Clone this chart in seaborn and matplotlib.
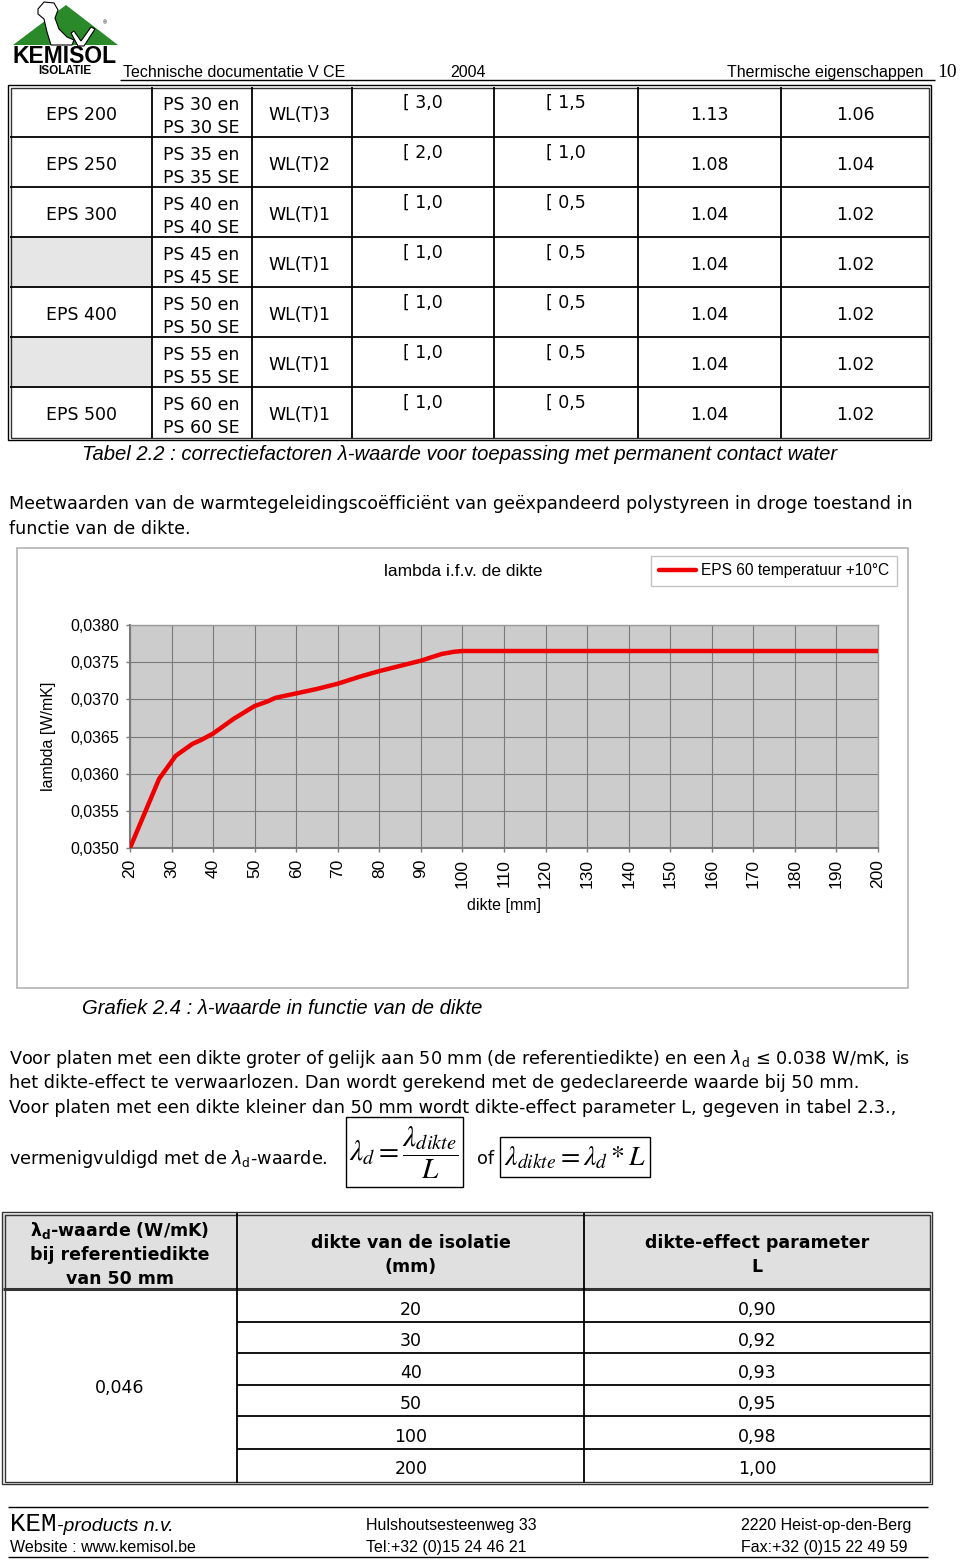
import matplotlib
matplotlib.use("Agg")
import matplotlib.pyplot as plt
from matplotlib.patches import Rectangle, Polygon
from matplotlib.ticker import FixedLocator, FixedFormatter
import seaborn as sns

# ---------------- data ----------------
thickness_mm = [20, 27, 31, 35, 37, 40, 45, 50, 53, 55, 60, 65, 70, 75, 80, 85, 90, 95, 98, 100, 200]
lambda_wmk = [0.03500, 0.03593, 0.03624, 0.03640, 0.03645, 0.03654, 0.03674, 0.03691, 0.03697,
              0.03702, 0.03708, 0.03714, 0.03721, 0.03730, 0.03738, 0.03745, 0.03752, 0.03761,
              0.03764, 0.03765, 0.03765]
series_name = "EPS 60 temperatuur +10°C"
x_ticks = [20, 30, 40, 50, 60, 70, 80, 90, 100, 110, 120, 130, 140, 150, 160, 170, 180, 190, 200]
y_ticks = [0.0350, 0.0355, 0.0360, 0.0365, 0.0370, 0.0375, 0.0380]
y_tick_labels = ["0,0350", "0,0355", "0,0360", "0,0365", "0,0370", "0,0375", "0,0380"]

t1_eps = ["EPS 200", "EPS 250", "EPS 300", "", "EPS 400", "", "EPS 500"]
t1_ps = ["30", "35", "40", "45", "50", "55", "60"]
t1_wl = ["WL(T)3", "WL(T)2", "WL(T)1", "WL(T)1", "WL(T)1", "WL(T)1", "WL(T)1"]
t1_c3 = ["[ 3,0", "[ 2,0", "[ 1,0", "[ 1,0", "[ 1,0", "[ 1,0", "[ 1,0"]
t1_c4 = ["[ 1,5", "[ 1,0", "[ 0,5", "[ 0,5", "[ 0,5", "[ 0,5", "[ 0,5"]
t1_c5 = ["1.13", "1.08", "1.04", "1.04", "1.04", "1.04", "1.04"]
t1_c6 = ["1.06", "1.04", "1.02", "1.02", "1.02", "1.02", "1.02"]

t2_dikte = ["20", "30", "40", "50", "100", "200"]
t2_L = ["0,90", "0,92", "0,93", "0,95", "0,98", "1,00"]
t2_lambda = "0,046"

BODY = "DejaVu Sans"
ARIAL = "Liberation Sans"

fig = plt.figure(figsize=(9.6, 15.6), dpi=100)
pg = fig.add_axes([0, 0, 1, 1])
pg.set_xlim(0, 960)
pg.set_ylim(1560, 0)
pg.axis("off")


def txt(x, y, s, size=12.5, ha="left", va="baseline", family=BODY, **kw):
    pg.text(x, y, s, fontsize=size, ha=ha, va=va, family=family, **kw)


def hl(x0, x1, y, lw=1.3, color="black"):
    pg.plot([x0, x1], [y, y], color=color, lw=lw, solid_capstyle="butt")


def vl(x, y0, y1, lw=1.3, color="black"):
    pg.plot([x, x], [y0, y1], color=color, lw=lw, solid_capstyle="butt")


# ---------------- header / logo ----------------
pg.add_patch(Polygon([(13, 45), (118, 45), (66, 5)], closed=True, fc="#2a8a2a", ec="none"))
pg.add_patch(Polygon([(38, 9), (44, 2), (54, 3), (58, 10), (55, 18), (59, 29), (67, 37), (74, 40),
                      (72, 45), (51, 45), (47, 32), (44, 19), (38, 14)], closed=True,
                     fc="white", ec="black", lw=0.8))
pg.add_patch(Polygon([(74, 31), (81, 41), (91, 27), (95, 29), (84, 46), (78, 46), (71, 33)],
                     closed=True, fc="white", ec="black", lw=0.8))
txt(103, 24, "®", size=4, family=ARIAL)
txt(12, 63, "KEMISOL", size=16.5, family=ARIAL, fontweight="heavy")
txt(65, 74, "ISOLATIE", size=8.5, ha="center", family=ARIAL, fontweight="bold")
txt(123, 77, "Technische documentatie V CE", size=11.5, family=ARIAL)
txt(450, 77, "2004", size=11.5, family=ARIAL)
txt(923, 77, "Thermische eigenschappen", size=11.5, ha="right", family=ARIAL)
txt(937, 77, "10", size=14, family="Liberation Serif")
hl(120, 935, 79.5, lw=1.0)

# ---------------- table 2.2 ----------------
cols = [10, 152, 252, 352, 494, 638, 781, 929]
top = 87
rh = 50
for r in (3, 5):
    pg.add_patch(Rectangle((cols[0], top + r * rh), cols[1] - cols[0], rh, fc="#e6e6e6", ec="none"))
pg.add_patch(Rectangle((8, 85), 923, 355, fc="none", ec="black", lw=1.0))
pg.add_patch(Rectangle((10.5, 87.5), 918.5, 350, fc="none", ec="#333333", lw=1.0))
for r in range(1, 7):
    hl(10, 929, top + r * rh)
for c in cols[1:-1]:
    vl(c, 87, 438)
for r in range(7):
    y0 = top + r * rh
    if t1_eps[r]:
        txt(81, y0 + 33, t1_eps[r], ha="center")
    txt(163, y0 + 22.5, "PS %s en" % t1_ps[r])
    txt(163, y0 + 46, "PS %s SE" % t1_ps[r])
    txt(268, y0 + 33, t1_wl[r])
    txt(403, y0 + 21, t1_c3[r])
    txt(546, y0 + 21, t1_c4[r])
    txt(709, y0 + 33.5, t1_c5[r], ha="center")
    txt(855, y0 + 33.5, t1_c6[r], ha="center")

txt(82, 460, "Tabel 2.2 : correctiefactoren λ-waarde voor toepassing met permanent contact water",
    size=14.6, family=ARIAL, style="italic")

txt(9, 509, "Meetwaarden van de warmtegeleidingscoëfficiënt van geëxpandeerd polystyreen in droge toestand in",
    size=12.6)
txt(9, 534, "functie van de dikte.", size=12.6)

# ---------------- chart ----------------
pg.add_patch(Rectangle((17, 548), 891, 440, fc="white", ec="#b4b4b4", lw=1.2))

ax = fig.add_axes([130 / 960, 1 - 848 / 1560, 748 / 960, 223 / 1560])
ax.set_facecolor("#cccccc")
sns.lineplot(x=thickness_mm, y=lambda_wmk, ax=ax, color="#ee0000", linewidth=3.2,
             label=series_name, solid_capstyle="round", solid_joinstyle="round", zorder=5)
ax.set_xlim(x_ticks[0], x_ticks[-1])
ax.set_ylim(y_ticks[0], y_ticks[-1])
ax.xaxis.set_major_locator(FixedLocator(x_ticks))
ax.xaxis.set_major_formatter(FixedFormatter([str(v) for v in x_ticks]))
ax.yaxis.set_major_locator(FixedLocator(y_ticks))
ax.yaxis.set_major_formatter(FixedFormatter(y_tick_labels))
ax.grid(True, color="#7a7a7a", lw=0.8)
ax.set_axisbelow(True)
for s in ("left", "bottom"):
    ax.spines[s].set_color("#7a7a7a")
    ax.spines[s].set_linewidth(1.5)
for s in ("top", "right"):
    ax.spines[s].set_color("#9a9a9a")
    ax.spines[s].set_linewidth(1.0)
ax.tick_params(axis="both", direction="out", length=3, width=1, color="#7a7a7a")
ax.tick_params(axis="y", pad=5, labelsize=11.5)
ax.tick_params(axis="x", pad=5, labelsize=12.5, labelrotation=90)
for lab in ax.get_xticklabels() + ax.get_yticklabels():
    lab.set_family(ARIAL)
ax.set_xlabel("dikte [mm]", fontsize=11.5, family=ARIAL)
ax.xaxis.set_label_coords((504 - 130) / 748, (848 - 898) / 223)
ax.set_ylabel("lambda [W/mK]", fontsize=11.5, family=ARIAL)
ax.yaxis.set_label_coords((56 - 130) / 748, 0.5)
ax.set_title("lambda i.f.v. de dikte", fontsize=12.5, family=ARIAL,
             x=(463 - 130) / 748, y=(848 - 576) / 223, pad=0)
leg = ax.legend(loc="center", bbox_to_anchor=(774 / 960, 1 - 571 / 1560),
                bbox_transform=fig.transFigure, frameon=True, fancybox=False,
                edgecolor="#b4b4b4", handlelength=2.4, handletextpad=0.3, borderpad=0.5,
                prop={"family": ARIAL, "size": 11.2})
leg.get_frame().set_linewidth(1.0)

txt(82, 1014, "Grafiek 2.4 : λ-waarde in functie van de dikte", size=14.6, family=ARIAL, style="italic")

# ---------------- paragraph ----------------
txt(9, 1064, r"Voor platen met een dikte groter of gelijk aan 50 mm (de referentiedikte) en een $\lambda_\mathrm{d}$ ≤ 0.038 W/mK, is",
    size=12.7)
txt(9, 1088, "het dikte-effect te verwaarlozen. Dan wordt gerekend met de gedeclareerde waarde bij 50 mm.", size=12.7)
txt(9, 1113, "Voor platen met een dikte kleiner dan 50 mm wordt dikte-effect parameter L, gegeven in tabel 2.3.,", size=12.7)
txt(9, 1164, r"vermenigvuldigd met de $\lambda_\mathrm{d}$-waarde.", size=12.7)

pg.add_patch(Rectangle((346, 1117), 117, 70, fc="none", ec="black", lw=1.0))
pg.add_patch(Rectangle((500, 1137), 150, 40, fc="none", ec="black", lw=1.0))
pg.text(404, 1153, r"$\lambda_d = \dfrac{\lambda_{dikte}}{L}$", fontsize=21, ha="center", va="center",
        math_fontfamily="stix")
txt(477, 1164, "of", size=12.7)
pg.text(575, 1157, r"$\lambda_{dikte} = \lambda_d * L$", fontsize=20, ha="center", va="center",
        math_fontfamily="stix")

# ---------------- table 2.3 ----------------
pg.add_patch(Rectangle((3, 1214), 927, 75, fc="#e0e0e0", ec="none"))
pg.add_patch(Rectangle((2, 1212), 930, 272, fc="none", ec="#333333", lw=1.0))
pg.add_patch(Rectangle((4.5, 1214.5), 925, 267, fc="none", ec="#333333", lw=1.0))
hl(3, 930, 1289, lw=2.2, color="#333333")
for y in (1322, 1353, 1385, 1416, 1449):
    hl(237, 930, y)
vl(237, 1213, 1483, lw=1.3)
vl(584, 1213, 1483, lw=1.3)
txt(120, 1236, r"$\mathbf{\lambda_d}$-waarde (W/mK)", ha="center", fontweight="bold")
txt(120, 1260, "bij referentiedikte", ha="center", fontweight="bold")
txt(120, 1284, "van 50 mm", ha="center", fontweight="bold")
txt(411, 1248, "dikte van de isolatie", ha="center", fontweight="bold")
txt(411, 1272, "(mm)", ha="center", fontweight="bold")
txt(757, 1248, "dikte-effect parameter", ha="center", fontweight="bold")
txt(757, 1272, "L", ha="center", fontweight="bold")
txt(120, 1393, t2_lambda, ha="center")
for i, yb in enumerate((1315, 1346.5, 1378, 1409, 1442, 1474)):
    txt(411, yb, t2_dikte[i], ha="center")
    txt(757, yb, t2_L[i], ha="center")

# ---------------- footer ----------------
hl(8, 928, 1507, lw=1.0)
hl(8, 928, 1557, lw=1.0)
txt(10, 1531, "KEM", size=18.5, family="Liberation Mono")
txt(57, 1531, "-products n.v.", size=14, family=ARIAL, style="italic")
txt(10, 1552, "Website : www.kemisol.be", size=11.5, family=ARIAL)
txt(366, 1530, "Hulshoutsesteenweg 33", size=11.5, family=ARIAL)
txt(366, 1552, "Tel:+32 (0)15 24 46 21", size=11.5, family=ARIAL)
txt(741, 1530, "2220 Heist-op-den-Berg", size=11.5, family=ARIAL)
txt(741, 1552, "Fax:+32 (0)15 22 49 59", size=11.5, family=ARIAL)

fig.savefig("out.png", dpi=100)
